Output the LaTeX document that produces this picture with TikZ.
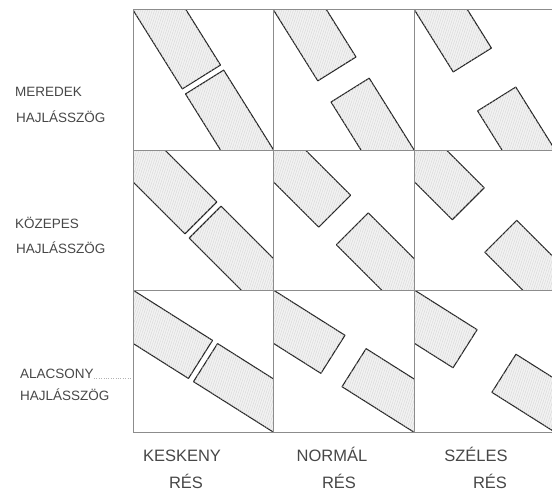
\documentclass[tikz,border=0pt]{standalone}
\usepackage{fontspec}
\setmainfont{Liberation Sans}
\usetikzlibrary{patterns.meta}
\begin{document}
\begin{tikzpicture}[x=1pt,y=-1pt,
  gridline/.style={draw=black!45,line width=0.6pt},
  block/.style={draw=black!85,line width=1.1pt,fill=black!5,line join=round,
    postaction={pattern={Lines[angle=72,distance=2.2pt,line width=0.3pt]},pattern color=black!18}},
  rowlab/.style={font=\fontsize{13.5}{14}\selectfont,text=black!72,anchor=base west,inner sep=0pt},
  collab/.style={font=\fontsize{16.5}{18}\selectfont,text=black!72,anchor=base,inner sep=0pt}]
\useasboundingbox (0,0) rectangle (552,493);
\clip (0,0) rectangle (552,493);
\foreach \row/\ang/\yt/\yb in {1/58/9/150, 2/45/150/290, 3/32.3/290/432}{
  \foreach \col/\gap/\xl/\xr in {1/6/133/273, 2/25/273/414, 3/46/414/555}{
    \begin{scope}
      \clip (\xl,\yt) rectangle (\xr,\yb);
      \begin{scope}[shift={({(\xl+\xr)/2},{(\yt+\yb)/2})},rotate=-\ang]
        \path[block] (-250,-22.5) rectangle ({-\gap/2},22.5);
        \path[block] ({\gap/2},-22.5) rectangle (250,22.5);
      \end{scope}
    \end{scope}
  }}
\foreach \x in {133,273,414,555} \draw[gridline] (\x,9) -- (\x,432);
\foreach \y in {9,150,290,432} \draw[gridline] (133,\y) -- (555,\y);
% row labels
\node[rowlab] (r1a) at (15,96.5) {MEREDEK};
\node[rowlab] (r1b) at (16,122) {HAJLÁSSZÖG};
\node[rowlab] (r2a) at (15,228) {KÖZEPES};
\node[rowlab] (r2b) at (16,253) {HAJLÁSSZÖG};
\node[rowlab] (r3a) at (20,378) {ALACSONY};
\node[rowlab] (r3b) at (20,400) {HAJLÁSSZÖG};
\coordinate (r3end) at (131,378);
\draw[black!30,dotted] (r3a.base east) -- (r3end);
% column labels
\node[collab] (c1a) at (182,461) {KESKENY};
\node[collab] (c1b) at (186,488) {RÉS};
\node[collab] (c2a) at (332,461) {NORMÁL};
\node[collab] (c2b) at (339,488) {RÉS};
\node[collab] (c3a) at (476,461) {SZÉLES};
\node[collab] (c3b) at (490,488) {RÉS};
\end{tikzpicture}
\end{document}
